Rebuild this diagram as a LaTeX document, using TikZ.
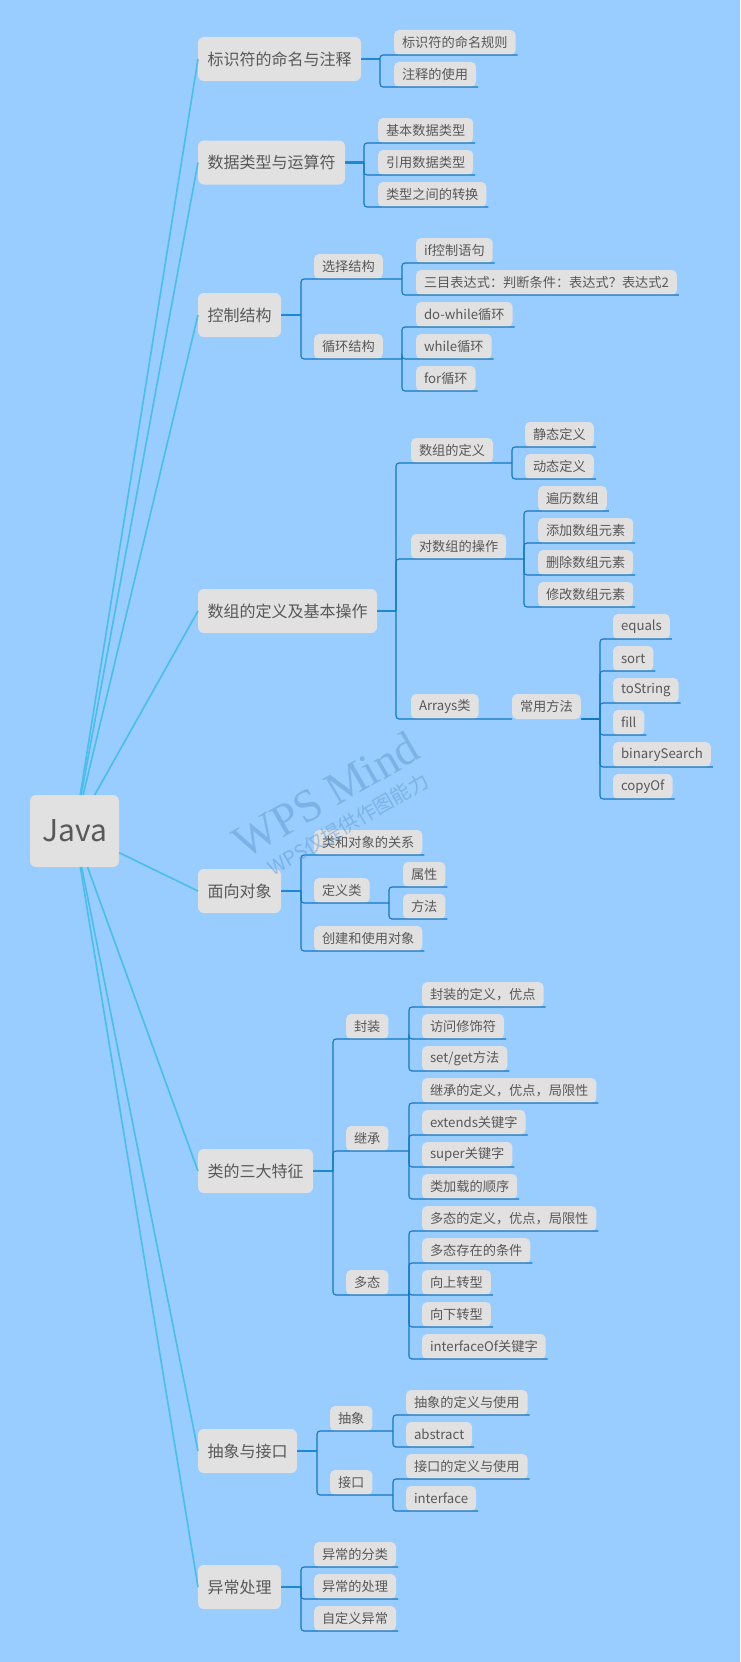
\documentclass[tikz,border=0pt]{standalone}
\usepackage{fontspec}
\setmainfont{Noto Sans CJK SC}
\newfontfamily\wmfont{Liberation Serif}
\usepackage{xcolor}
\usepackage{tikz}

\definecolor{bgblue}{HTML}{99CCFF}
\definecolor{boxgray}{HTML}{E1E1E1}
\definecolor{txtgray}{HTML}{585858}
\definecolor{stemblue}{HTML}{4BBDEB}
\definecolor{trunkblue}{HTML}{1E88D2}
\definecolor{branchblue}{HTML}{1677BF}
\definecolor{wmblue}{HTML}{5F9AD2}

\begin{document}
\begin{tikzpicture}[x=1pt, y=-1pt,
  box/.style={fill=boxgray, text=txtgray, outer sep=0pt, inner ysep=0pt, anchor=west},
  root/.style={box, anchor=center, rounded corners=6pt, minimum width=89pt, minimum height=72pt, font=\fontsize{30}{32}\selectfont},
  top/.style={box, rounded corners=6pt, inner xsep=9.5pt, minimum height=44pt, font=\fontsize{16}{18}\selectfont},
  leaf/.style={box, rounded corners=5pt, inner xsep=8pt, minimum height=25pt, font=\fontsize{13.2}{15}\selectfont},
  stem/.style={draw=stemblue, line width=1.6pt},
  trunk/.style={draw=trunkblue, line width=2.6pt},
  branch/.style={draw=branchblue, line width=1.1pt, rounded corners=3pt},
  wm/.style={text=wmblue, opacity=0.5, rotate=30}]
\fill[bgblue] (0,0) rectangle (740,1662);
\useasboundingbox (0,0) rectangle (740,1662);

% Points
\node[root] (java) at (74.5,831) {Java};

\node[top] (name) at (198,59) {标识符的命名与注释};
\node[top] (type) at (198,162.5) {数据类型与运算符};
\node[top] (ctrl) at (198,315) {控制结构};
\node[top] (arr) at (198,611) {数组的定义及基本操作};
\node[top] (oop) at (198,891) {面向对象};
\node[top] (cls) at (198,1171) {类的三大特征};
\node[top] (abs) at (198,1451) {抽象与接口};
\node[top] (exc) at (198,1587) {异常处理};

\node[leaf] (name1) at (394,42.5) {标识符的命名规则};
\node[leaf] (name2) at (394,74.5) {注释的使用};

\node[leaf] (type1) at (378,130.5) {基本数据类型};
\node[leaf] (type2) at (378,162.5) {引用数据类型};
\node[leaf] (type3) at (378,194.5) {类型之间的转换};

\node[leaf] (sel) at (314,266.5) {选择结构};
\node[leaf] (loop) at (314,346.5) {循环结构};
\node[leaf] (sel1) at (416,250.5) {if控制语句};
\node[leaf] (sel2) at (416,282.5) {三目表达式：判断条件：表达式？表达式2};
\node[leaf] (loop1) at (416,314.5) {do-while循环};
\node[leaf] (loop2) at (416,346.5) {while循环};
\node[leaf] (loop3) at (416,378.5) {for循环};

\node[leaf] (def) at (411,450.5) {数组的定义};
\node[leaf] (op) at (411,546.5) {对数组的操作};
\node[leaf] (util) at (411,706.5) {Arrays类};
\node[leaf] (def1) at (525,434.5) {静态定义};
\node[leaf] (def2) at (525,466.5) {动态定义};
\node[leaf] (op1) at (538,498.5) {遍历数组};
\node[leaf] (op2) at (538,530.5) {添加数组元素};
\node[leaf] (op3) at (538,562.5) {删除数组元素};
\node[leaf] (op4) at (538,594.5) {修改数组元素};
\node[leaf] (meth) at (512,706.5) {常用方法};
\node[leaf] (meth1) at (613,626.5) {equals};
\node[leaf] (meth2) at (613,658.5) {sort};
\node[leaf] (meth3) at (613,690.5) {toString};
\node[leaf] (meth4) at (613,722.5) {fill};
\node[leaf] (meth5) at (613,754.5) {binarySearch};
\node[leaf] (meth6) at (613,786.5) {copyOf};

\node[leaf] (oop1) at (314,842.5) {类和对象的关系};
\node[leaf] (oop2) at (314,890.5) {定义类};
\node[leaf] (oop3) at (314,938.5) {创建和使用对象};
\node[leaf] (attr) at (403,874.5) {属性};
\node[leaf] (func) at (403,906.5) {方法};

\node[leaf] (enc) at (346,1026.5) {封装};
\node[leaf] (inh) at (346,1138.5) {继承};
\node[leaf] (poly) at (346,1282.5) {多态};
\node[leaf] (enc1) at (422,994.5) {封装的定义，优点};
\node[leaf] (enc2) at (422,1026.5) {访问修饰符};
\node[leaf] (enc3) at (422,1058.5) {set/get方法};
\node[leaf] (inh1) at (422,1090.5) {继承的定义，优点，局限性};
\node[leaf] (inh2) at (422,1122.5) {extends关键字};
\node[leaf] (inh3) at (422,1154.5) {super关键字};
\node[leaf] (inh4) at (422,1186.5) {类加载的顺序};
\node[leaf] (poly1) at (422,1218.5) {多态的定义，优点，局限性};
\node[leaf] (poly2) at (422,1250.5) {多态存在的条件};
\node[leaf] (poly3) at (422,1282.5) {向上转型};
\node[leaf] (poly4) at (422,1314.5) {向下转型};
\node[leaf] (poly5) at (422,1346.5) {interfaceOf关键字};

\node[leaf] (ab) at (330,1418.5) {抽象};
\node[leaf] (itf) at (330,1482.5) {接口};
\node[leaf] (ab1) at (406,1402.5) {抽象的定义与使用};
\node[leaf] (ab2) at (406,1434.5) {abstract};
\node[leaf] (itf1) at (406,1466.5) {接口的定义与使用};
\node[leaf] (itf2) at (406,1498.5) {interface};

\node[leaf] (exc1) at (314,1554.5) {异常的分类};
\node[leaf] (exc2) at (314,1586.5) {异常的处理};
\node[leaf] (exc3) at (314,1618.5) {自定义异常};

% Joints
\coordinate (namej) at (380,59);
\coordinate (typej) at (364,162.5);
\coordinate (ctrlj) at (301,315);
\coordinate (selj) at (402,279);
\coordinate (loopj) at (402,359);
\coordinate (arrj) at (396,611);
\coordinate (defj) at (512,463);
\coordinate (opj) at (524,559);
\coordinate (methj) at (600,719);
\coordinate (oopj) at (301,891);
\coordinate (oop2j) at (389,903);
\coordinate (clsj) at (333,1171);
\coordinate (encj) at (409,1039);
\coordinate (inhj) at (409,1151);
\coordinate (polyj) at (409,1295);
\coordinate (absj) at (317,1451);
\coordinate (abj) at (393,1431);
\coordinate (itfj) at (393,1495);
\coordinate (excj) at (301,1587);

%Lines
\draw[stem] (java) -- (name.west);
\draw[stem] (java) -- (type.west);
\draw[stem] (java) -- (ctrl.west);
\draw[stem] (java) -- (arr.west);
\draw[stem] (java) -- (oop.west);
\draw[stem] (java) -- (cls.west);
\draw[stem] (java) -- (abs.west);
\draw[stem] (java) -- (exc.west);

\draw[trunk] (name.east) -- (namej);
\draw[trunk] (type.east) -- (typej);
\draw[trunk] (ctrl.east) -- (ctrlj);
\draw[trunk] (arr.east) -- (arrj);
\draw[trunk] (oop.east) -- (oopj);
\draw[trunk] (cls.east) -- (clsj);
\draw[trunk] (abs.east) -- (absj);
\draw[trunk] (exc.east) -- (excj);

\draw[branch] (namej) |- ([xshift=2pt]name1.south east);
\draw[branch] (namej) |- ([xshift=2pt]name2.south east);
\draw[branch] (typej) |- ([xshift=2pt]type1.south east);
\draw[branch] (typej) |- ([xshift=2pt]type2.south east);
\draw[branch] (typej) |- ([xshift=2pt]type3.south east);

\draw[branch] (ctrlj) |- (sel.south east) -- (selj);
\draw[branch] (ctrlj) |- (loop.south east) -- (loopj);
\draw[branch] (selj) |- ([xshift=2pt]sel1.south east);
\draw[branch] (selj) |- ([xshift=2pt]sel2.south east);
\draw[branch] (loopj) |- ([xshift=2pt]loop1.south east);
\draw[branch] (loopj) |- ([xshift=2pt]loop2.south east);
\draw[branch] (loopj) |- ([xshift=2pt]loop3.south east);

\draw[branch] (arrj) |- (def.south east) -- (defj);
\draw[branch] (arrj) |- (op.south east) -- (opj);
\draw[branch] (arrj) |- (util.south east) -- (meth.south west);
\draw[branch] (meth.south east) -- (methj);
\draw[branch] (defj) |- ([xshift=2pt]def1.south east);
\draw[branch] (defj) |- ([xshift=2pt]def2.south east);
\draw[branch] (opj) |- ([xshift=2pt]op1.south east);
\draw[branch] (opj) |- ([xshift=2pt]op2.south east);
\draw[branch] (opj) |- ([xshift=2pt]op3.south east);
\draw[branch] (opj) |- ([xshift=2pt]op4.south east);
\draw[branch] (methj) |- ([xshift=2pt]meth1.south east);
\draw[branch] (methj) |- ([xshift=2pt]meth2.south east);
\draw[branch] (methj) |- ([xshift=2pt]meth3.south east);
\draw[branch] (methj) |- ([xshift=2pt]meth4.south east);
\draw[branch] (methj) |- ([xshift=2pt]meth5.south east);
\draw[branch] (methj) |- ([xshift=2pt]meth6.south east);

\draw[branch] (oopj) |- ([xshift=2pt]oop1.south east);
\draw[branch] (oopj) |- (oop2.south east) -- (oop2j);
\draw[branch] (oopj) |- ([xshift=2pt]oop3.south east);
\draw[branch] (oop2j) |- ([xshift=2pt]attr.south east);
\draw[branch] (oop2j) |- ([xshift=2pt]func.south east);

\draw[branch] (clsj) |- (enc.south east) -- (encj);
\draw[branch] (clsj) |- (inh.south east) -- (inhj);
\draw[branch] (clsj) |- (poly.south east) -- (polyj);
\draw[branch] (encj) |- ([xshift=2pt]enc1.south east);
\draw[branch] (encj) |- ([xshift=2pt]enc2.south east);
\draw[branch] (encj) |- ([xshift=2pt]enc3.south east);
\draw[branch] (inhj) |- ([xshift=2pt]inh1.south east);
\draw[branch] (inhj) |- ([xshift=2pt]inh2.south east);
\draw[branch] (inhj) |- ([xshift=2pt]inh3.south east);
\draw[branch] (inhj) |- ([xshift=2pt]inh4.south east);
\draw[branch] (polyj) |- ([xshift=2pt]poly1.south east);
\draw[branch] (polyj) |- ([xshift=2pt]poly2.south east);
\draw[branch] (polyj) |- ([xshift=2pt]poly3.south east);
\draw[branch] (polyj) |- ([xshift=2pt]poly4.south east);
\draw[branch] (polyj) |- ([xshift=2pt]poly5.south east);

\draw[branch] (absj) |- (ab.south east) -- (abj);
\draw[branch] (absj) |- (itf.south east) -- (itfj);
\draw[branch] (abj) |- ([xshift=2pt]ab1.south east);
\draw[branch] (abj) |- ([xshift=2pt]ab2.south east);
\draw[branch] (itfj) |- ([xshift=2pt]itf1.south east);
\draw[branch] (itfj) |- ([xshift=2pt]itf2.south east);

\draw[branch] (excj) |- ([xshift=2pt]exc1.south east);
\draw[branch] (excj) |- ([xshift=2pt]exc2.south east);
\draw[branch] (excj) |- ([xshift=2pt]exc3.south east);

% Watermark
\node[wm, font=\wmfont\fontsize{46}{48}\selectfont] (wmark) at (326,795) {WPS Mind};
\node[wm, font=\fontsize{20}{22}\selectfont] (wmnote) at (348,824) {WPS仅提供作图能力};
\end{tikzpicture}
\end{document}
